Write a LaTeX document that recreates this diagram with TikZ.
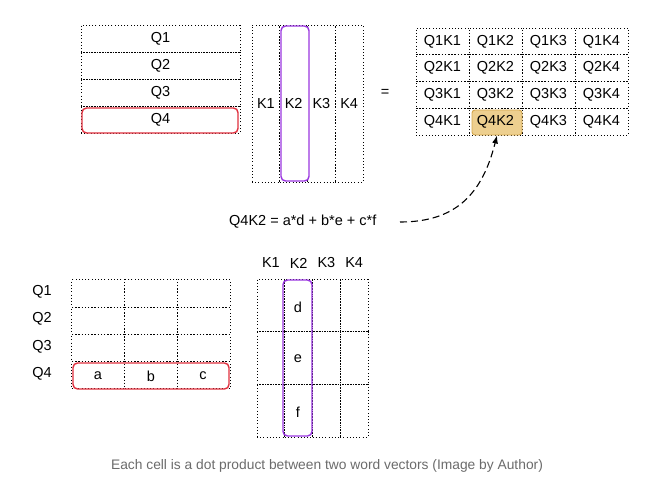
\documentclass[tikz,border=0pt]{standalone}
\usepackage{fontspec}
\setmainfont{Liberation Sans}
\usetikzlibrary{arrows.meta}
\definecolor{redbox}{HTML}{E0303E}
\definecolor{purplebox}{HTML}{9A36E0}
\definecolor{tanfill}{HTML}{EDCF8F}
\definecolor{tanline}{HTML}{D4A64A}
\definecolor{captiongray}{HTML}{6B6B6B}
\begin{document}
\begin{tikzpicture}[x=1pt,y=-1pt,
  txt/.style={font=\fontsize{14.5}{16}\selectfont, inner sep=0pt},
  cell/.style={draw, line width=1pt, dash pattern=on 1pt off 2.2pt, inner sep=0pt, rectangle},
  selbase/.style={fill=white, line width=1.4pt, rounded corners=4.5pt, inner sep=0pt},
  redsel/.style={selbase, draw=redbox},
  purplesel/.style={selbase, draw=purplebox},
  hilite/.style={draw=tanline, fill=tanfill, line width=0.9pt, rounded corners=3pt, inner sep=0pt},
  ]
\useasboundingbox (0,0) rectangle (646,483);
% ---------- top Q matrix ----------
\foreach \i in {1,...,4}{
  \node[cell, minimum width=159pt, minimum height=27pt] (tq\i) at (160.5,{25+27*(\i-1)+13.5}) {};
}
\node[redsel, minimum width=156pt, minimum height=25pt] (tq4sel) at (160,120.5) {};
\foreach \i in {1,...,4}{
  \node[txt] (tql\i) at (tq\i) {Q\i};
}
% ---------- top K matrix ----------
\foreach \j in {1,...,4}{
  \node[cell, minimum width=27.75pt, minimum height=157pt] (tk\j) at ({252+27.75*(\j-1)+13.875},103.5) {};
}
\node[purplesel, minimum width=28pt, minimum height=155pt] (tk2sel) at (295,103.5) {};
\foreach \j in {1,...,4}{
  \node[txt] (tkl\j) at (tk\j) {K\j};
}
\node[txt] (eq) at (385,93) {=};
% ---------- result matrix ----------
\foreach \i in {1,...,4}{
  \foreach \j in {1,...,4}{
    \node[cell, minimum width=53pt, minimum height=26.75pt] (r\i\j) at ({416+53*(\j-1)+26.5},{28+26.75*(\i-1)+13.375}) {};
  }
}
\node[hilite, minimum width=50pt, minimum height=25pt] (r42sel) at (497,122.5) {};
\foreach \i in {1,...,4}{
  \foreach \j in {1,...,4}{
    \node[txt] (rl\i\j) at (r\i\j) {Q\i K\j};
  }
}
% ---------- equation and arrow ----------
\node[txt, anchor=west] (formula) at (229,222) {Q4K2 = a*d + b*e + c*f};
\coordinate (arrstart) at (400,222);
\draw[line width=1.1pt, dash pattern=on 7pt off 4pt, -{Latex[length=8pt,width=6pt]}]
  (arrstart) .. controls (455,222) and (482,195) .. (r42sel.south);
% ---------- bottom Q matrix ----------
\foreach \i in {1,...,4}{
  \foreach \j in {1,...,3}{
    \node[cell, minimum width=52.67pt, minimum height=27.25pt] (bq\i\j) at ({72+52.67*(\j-1)+26.33},{280+27.25*(\i-1)+13.6}) {};
  }
  \node[txt] (bql\i) at (42,{292+27.3*(\i-1)}) {Q\i};
}
\node[redsel, fill=none, minimum width=156pt, minimum height=26pt] (bq4sel) at (151,376) {};
\node[txt] (va) at (98,376) {a};
\node[txt] (vb) at (151,376) {b};
\node[txt] (vc) at (203,376) {c};
% ---------- bottom K matrix ----------
\foreach \i in {1,...,3}{
  \foreach \j in {1,...,4}{
    \node[cell, minimum width=27.75pt, minimum height=52.67pt] (bk\i\j) at ({257+27.75*(\j-1)+13.875},{279+52.67*(\i-1)+26.33}) {};
  }
}
\foreach \j in {1,...,4}{
  \node[txt] (bkl\j) at ({257+27.75*(\j-1)+13.875},263) {K\j};
}
\node[purplesel, fill=none, minimum width=29pt, minimum height=156pt] (bk2sel) at (297.5,358) {};
\node[txt] (vd) at (298,307) {d};
\node[txt] (ve) at (298,359) {e};
\node[txt] (vf) at (298,412) {f};
% ---------- caption ----------
\node[font=\fontsize{13.8}{15}\selectfont, text=captiongray, inner sep=0pt] (caption) at (327,466) {Each cell is a dot product between two word vectors (Image by Author)};
\end{tikzpicture}
\end{document}
